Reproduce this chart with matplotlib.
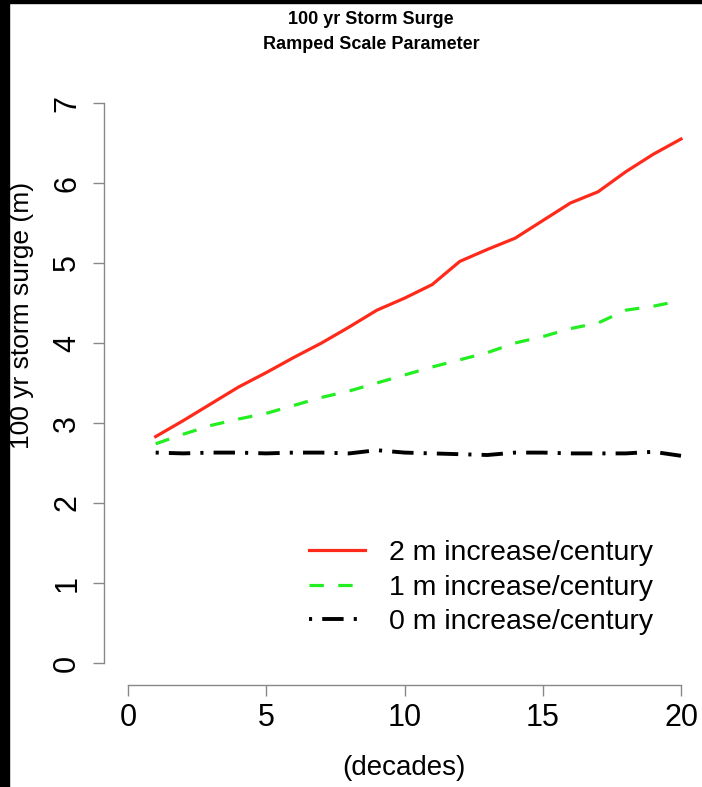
import matplotlib
matplotlib.use("Agg")
import matplotlib.pyplot as plt

plt.rcParams['font.family'] = ['Liberation Sans', 'DejaVu Sans']

decades = list(range(1, 21))
surge_2m = [2.83, 3.03, 3.24, 3.45, 3.63, 3.82, 4.00, 4.20, 4.41, 4.56,
            4.73, 5.02, 5.17, 5.31, 5.53, 5.75, 5.89, 6.14, 6.36, 6.55]
surge_1m = [2.74, 2.86, 2.97, 3.05, 3.12, 3.22, 3.32, 3.40, 3.50, 3.60,
            3.70, 3.79, 3.88, 4.00, 4.08, 4.18, 4.25, 4.41, 4.46, 4.53]
surge_0m = [2.63, 2.62, 2.63, 2.63, 2.62, 2.63, 2.63, 2.62, 2.66, 2.63,
            2.62, 2.61, 2.60, 2.63, 2.63, 2.62, 2.62, 2.62, 2.64, 2.59]
labels = ["2 m increase/century", "1 m increase/century", "0 m increase/century"]

W, H = 702, 787
fig = plt.figure(figsize=(W / 100, H / 100), dpi=100)
ax = fig.add_axes([128 / W, 1 - 663 / H, (681 - 128) / W, (663 - 103) / H])

ax.plot(decades, surge_2m, color="#ff2a1a", lw=2.3, label=labels[0], clip_on=False)
ax.plot(decades, surge_1m, color="#22ee22", lw=2.3, dashes=(4.5, 4.5),
        label=labels[1], clip_on=False)
ax.plot(decades, surge_0m, color="black", lw=2.8, dashes=(0.8, 2.6, 5.5, 2.6),
        label=labels[2], clip_on=False)

ax.set_xlim(0, 20)
ax.set_ylim(0, 7)
ax.set_xticks([0, 5, 10, 15, 20])
ax.set_yticks(range(8))
for s in ["top", "right"]:
    ax.spines[s].set_visible(False)
ax.spines["left"].set_position(("outward", 17))
ax.spines["bottom"].set_position(("outward", 16))
for s in ["left", "bottom"]:
    ax.spines[s].set_color("#888888")
    ax.spines[s].set_linewidth(1.0)
ax.tick_params(colors="#888888", labelcolor="black", length=8, width=1.0,
               labelsize=22, pad=5)
ax.tick_params(axis="y", pad=8)
for t in ax.get_yticklabels():
    t.set_rotation(90)
    t.set_va("center")

fig.text(22 / W, 1 - 315 / H, "100 yr storm surge (m)", rotation=90,
         ha="center", va="center", fontsize=19)
fig.text(404 / W, 1 - 768 / H, "(decades)", ha="center", va="center", fontsize=20)
fig.text(371 / W, 1 - 32 / H, "100 yr Storm Surge\nRamped Scale Parameter",
         ha="center", va="center", fontsize=13, fontweight="bold", linespacing=1.6)

ax.legend(loc="upper left", bbox_to_anchor=(295 / W, 1 - 526 / H),
          bbox_transform=fig.transFigure, frameon=False, fontsize=20.5,
          handlelength=1.95, handletextpad=0.85, labelspacing=0.3, borderpad=0)

# black edges of the screenshot
fig.patches.append(plt.Rectangle((0, 0), 9 / W, 1, transform=fig.transFigure,
                                 color="black", zorder=10))
fig.patches.append(plt.Rectangle((0, 1 - 3 / H), 1, 3 / H, transform=fig.transFigure,
                                 color="black", zorder=10))

fig.savefig("out.png", dpi=100)
